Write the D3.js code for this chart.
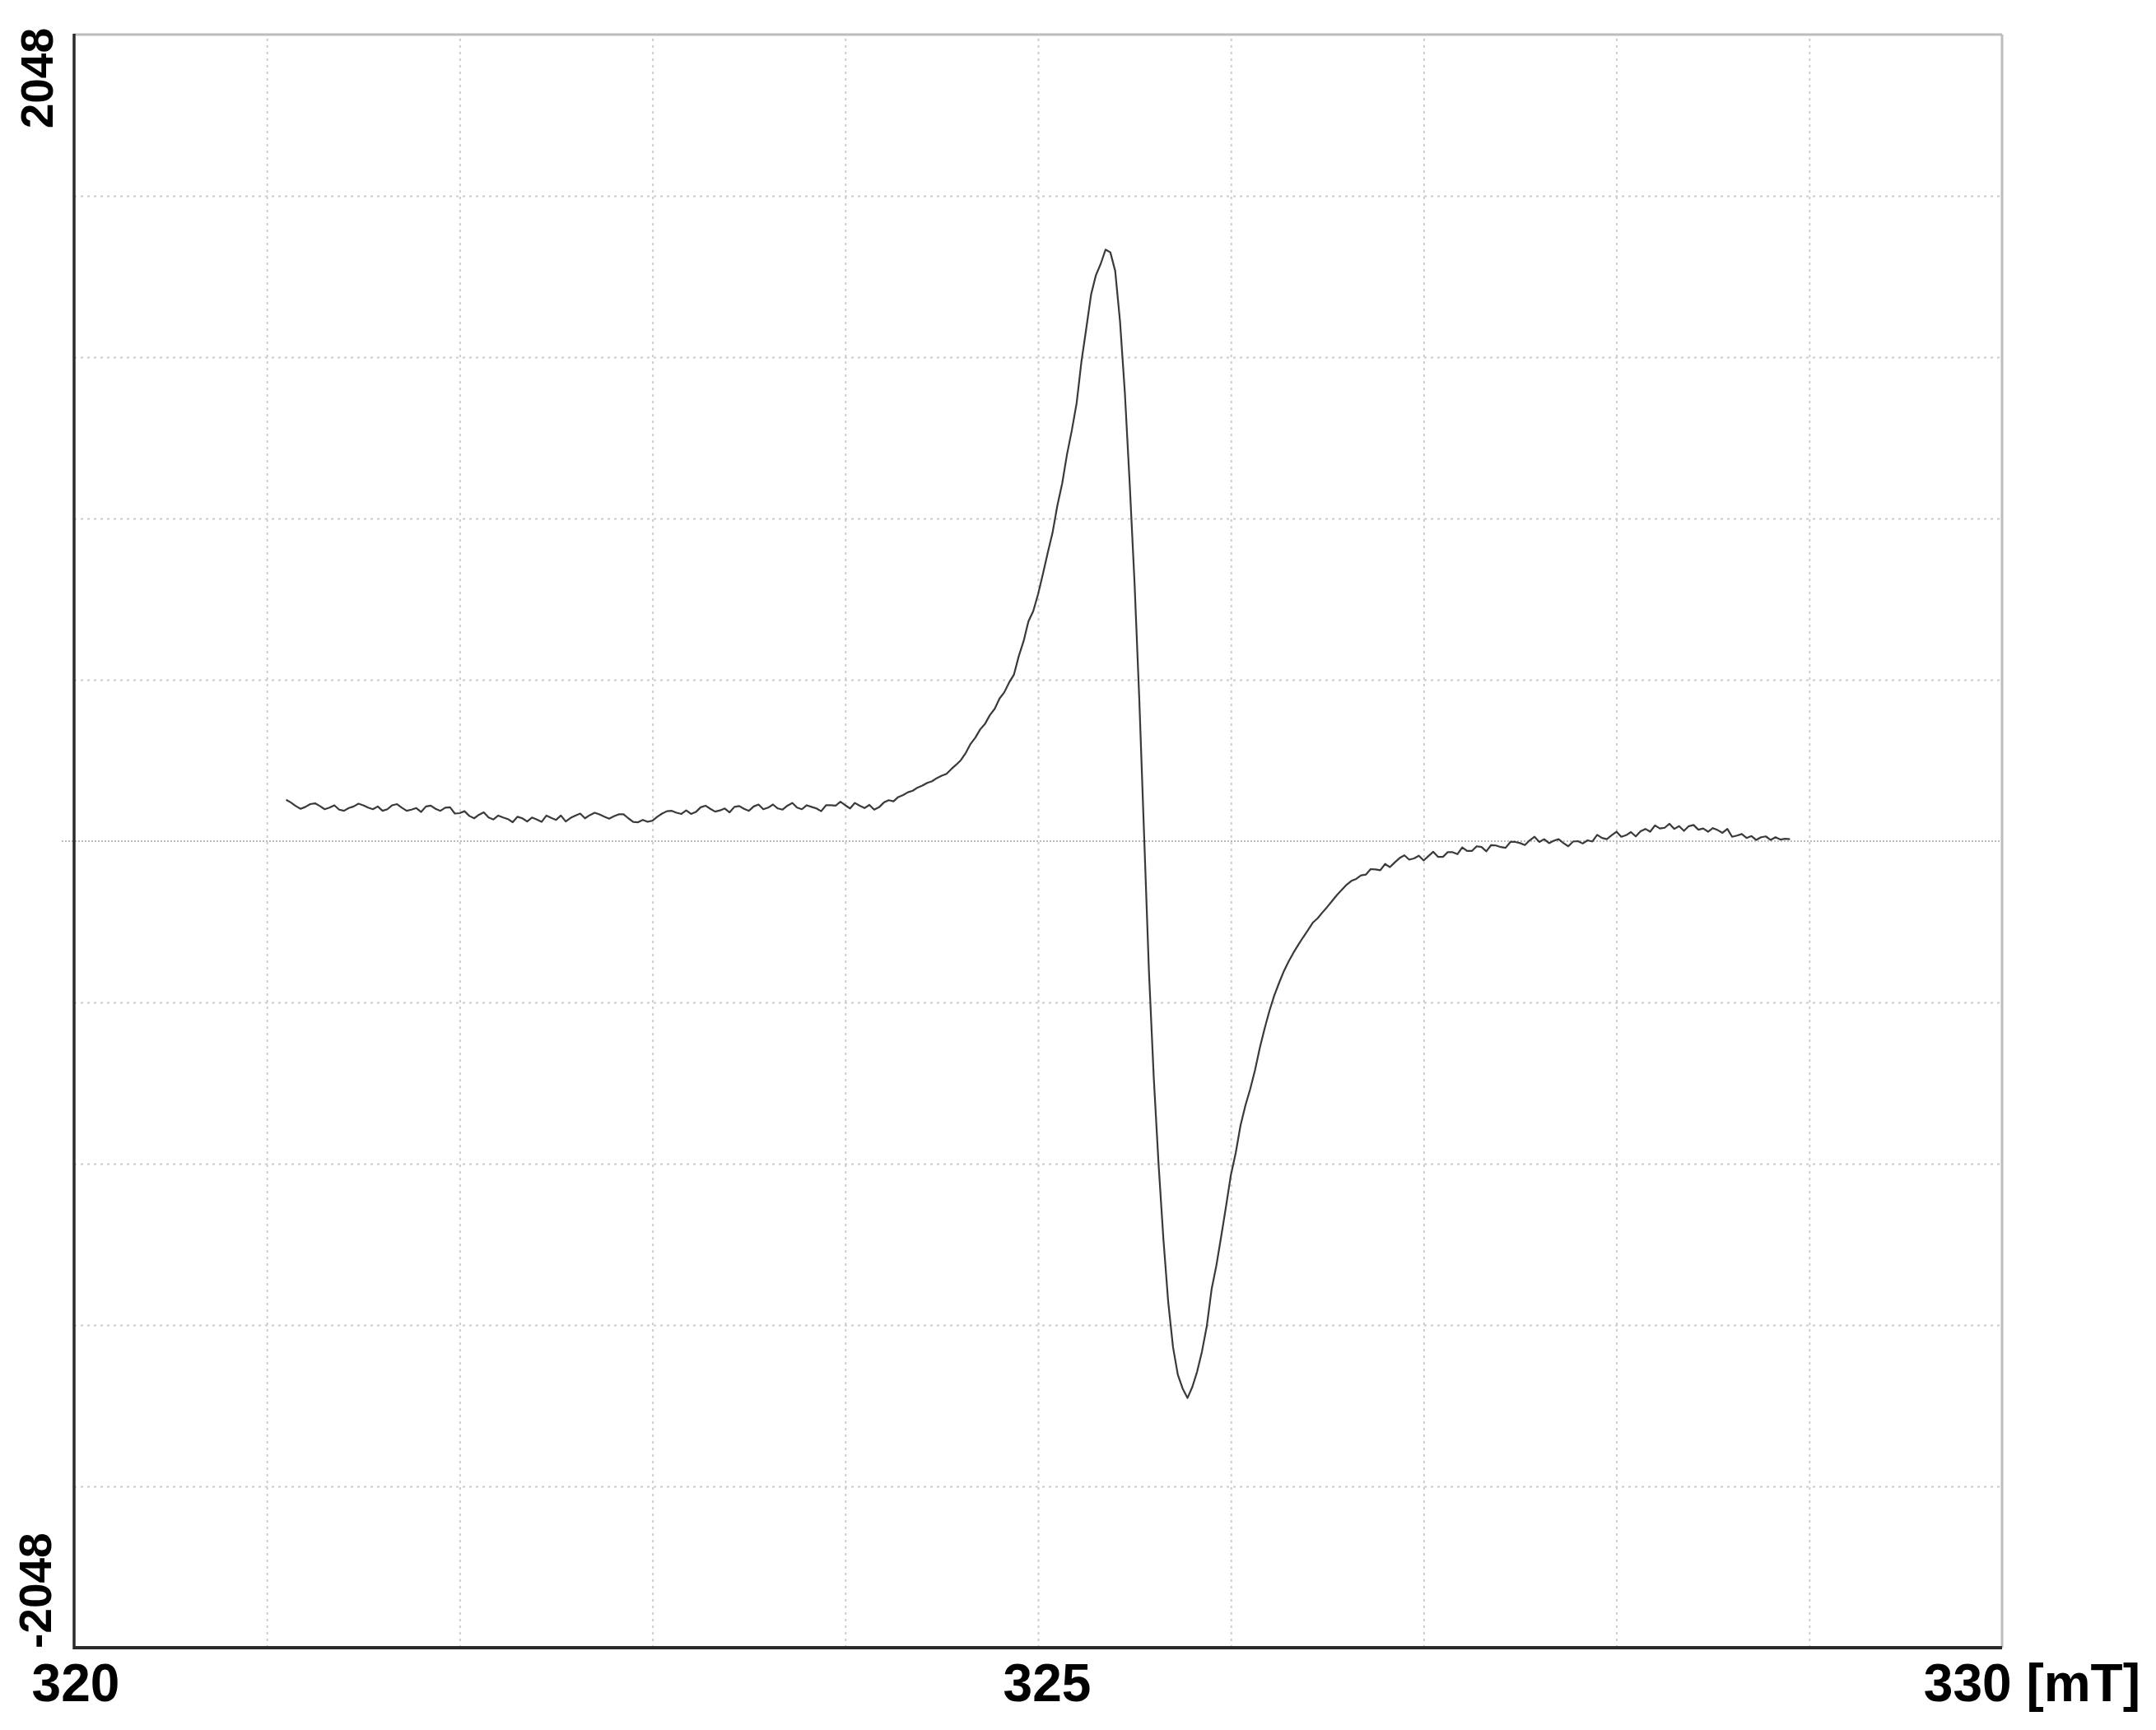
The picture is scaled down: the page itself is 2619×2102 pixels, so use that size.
<!DOCTYPE html>
<html>
<head>
<meta charset="utf-8">
<script src="https://cdn.jsdelivr.net/npm/d3@7/dist/d3.min.js"></script>
<style>
  html, body { margin: 0; padding: 0; background: #ffffff; }
  svg { display: block; }
  text { font-family: "Liberation Sans", Arial, sans-serif; fill: #000; font-weight: bold; }
</style>
</head>
<body>
<svg id="chart" width="2619" height="2102"></svg>
<script>
// ---- data ----
const xDomain = [320, 330];          // magnetic field, mT
const yDomain = [-2048, 2048];       // signal (a.u.)
const xTickLabels = ["320", "325", "330 [mT]"];
const xTickValues = [320, 325, 330];
const yTickLabels = ["2048", "-2048"];
const xGridTicks = [321, 322, 323, 324, 325, 326, 327, 328, 329];
const yGridTicks = [-1638.4, -1228.8, -819.2, -409.6, 409.6, 819.2, 1228.8, 1638.4];

// field sweep: start and step of the recorded spectrum
const fieldStart = 321.1;
const fieldStep = 0.025;
// EPR first-derivative signal, one value per field step (321.100 ... 328.900 mT)
const signal = [
  105, 98, 89, 82, 87, 94, 96, 89,            // 321.1
  81, 85, 91, 80, 77, 84, 88, 95,             // 321.3
  91, 85, 81, 88, 77, 81, 91, 94,             // 321.5
  85, 77, 80, 84, 74, 88, 90, 82,             // 321.7
  77, 85, 86, 70, 71, 76, 64, 58,             // 321.9
  67, 73, 60, 55, 65, 60, 56, 48,             // 322.1
  62, 58, 50, 60, 55, 49, 65, 59,             // 322.3
  54, 65, 50, 59, 65, 70, 58, 66,             // 322.5
  72, 68, 62, 57, 63, 68, 68, 58,             // 322.7
  49, 48, 54, 49, 52, 62, 70, 76,             // 322.9
  77, 72, 69, 78, 69, 74, 86, 90,             // 323.1
  82, 75, 78, 83, 73, 87, 89, 82,             // 323.3
  77, 88, 93, 81, 85, 93, 83, 80,             // 323.5
  90, 97, 85, 81, 91, 87, 83, 76,             // 323.7
  91, 91, 90, 100, 91, 83, 97, 90,            // 323.9
  84, 92, 80, 86, 98, 104, 101, 112,          // 324.1
  117, 124, 128, 136, 141, 148, 152, 160,     // 324.3
  166, 171, 183, 194, 206, 224, 247, 263,     // 324.5
  284, 298, 320, 336, 362, 378, 403, 423,     // 324.7
  470, 508, 558, 584, 627, 678, 732, 783,     // 324.9
  852, 908, 982, 1043, 1112, 1218, 1302, 1388,      // 325.1
  1437, 1466, 1502, 1495, 1448, 1320, 1140, 910,    // 325.3
  660, 360, 15, -330, -600, -820, -1010, -1170,     // 325.5
  -1285, -1355, -1390, -1414, -1386, -1347, -1296, -1232, // 325.7
  -1138, -1077, -1003, -927, -848, -792, -722, -672,  // 325.9
  -630, -582, -525, -476, -431, -392, -360, -330,   // 326.1
  -305, -283, -263, -244, -226, -207, -196, -181,   // 326.3
  -167, -152, -137, -124, -111, -101, -96, -87,     // 326.5
  -85, -71, -72, -74, -58, -66, -54, -43,           // 326.7
  -36, -47, -44, -37, -49, -38, -27, -40,           // 326.9
  -40, -28, -28, -33, -16, -25, -25, -13,           // 327.1
  -15, -26, -10, -11, -15, -17, -2, -2,             // 327.3
  -5, -10, 2, 11, -2, 5, -5, 1,                     // 327.5
  5, -5, -13, -1, 0, -6, 2, -1,                     // 327.7
  16, 8, 5, 15, 24, 11, 15, 23,                     // 327.9
  12, 25, 31, 24, 40, 32, 34, 44,                   // 328.1
  31, 38, 26, 38, 41, 29, 32, 24,                   // 328.3
  33, 28, 21, 31, 11, 14, 18, 8,                    // 328.5
  13, 3, 10, 12, 3, 10, 4, 6,                       // 328.7
  5                                                 // 328.9
];

// ---- layout ----
const W = 2619, H = 2102;
const plot = { left: 90, right: 2432, top: 42, bottom: 2002 };

const svg = d3.select("#chart");
const x = d3.scaleLinear().domain(xDomain).range([plot.left, plot.right]);
const y = d3.scaleLinear().domain(yDomain).range([plot.bottom, plot.top]);

svg.append("rect").attr("width", W).attr("height", H).attr("fill", "#fff");

// grid (dotted)
const gx = svg.append("g")
  .attr("transform", `translate(0,${plot.bottom})`)
  .call(d3.axisBottom(x).tickValues(xGridTicks).tickSize(-(plot.bottom - plot.top)).tickFormat(""));
gx.select(".domain").remove();
gx.selectAll(".tick line")
  .attr("stroke", "#cccccc").attr("stroke-width", 2).attr("stroke-dasharray", "3,5");

const gy = svg.append("g")
  .attr("transform", `translate(${plot.left},0)`)
  .call(d3.axisLeft(y).tickValues(yGridTicks).tickSize(-(plot.right - plot.left)).tickFormat(""));
gy.select(".domain").remove();
gy.selectAll(".tick line")
  .attr("stroke", "#cccccc").attr("stroke-width", 2).attr("stroke-dasharray", "3,5");

// zero line
svg.append("line")
  .attr("x1", plot.left - 15).attr("x2", plot.right)
  .attr("y1", y(0)).attr("y2", y(0))
  .attr("stroke", "#bdbdbd").attr("stroke-width", 2).attr("stroke-dasharray", "2,2");

// frame: top & right light, left & bottom dark
svg.append("line").attr("x1", plot.left).attr("x2", plot.right)
  .attr("y1", plot.top).attr("y2", plot.top)
  .attr("stroke", "#bcbcbc").attr("stroke-width", 3);
svg.append("line").attr("x1", plot.right).attr("x2", plot.right)
  .attr("y1", plot.top).attr("y2", plot.bottom)
  .attr("stroke", "#bcbcbc").attr("stroke-width", 3);
svg.append("line").attr("x1", plot.left).attr("x2", plot.left)
  .attr("y1", plot.top - 1).attr("y2", plot.bottom + 2)
  .attr("stroke", "#2b2b2b").attr("stroke-width", 3.5);
svg.append("line").attr("x1", plot.left - 1).attr("x2", plot.right)
  .attr("y1", plot.bottom).attr("y2", plot.bottom)
  .attr("stroke", "#2b2b2b").attr("stroke-width", 4);

// spectrum
const pts = signal.map((v, i) => [fieldStart + i * fieldStep, v]);
const line = d3.line().x(d => x(d[0])).y(d => y(d[1]));
svg.append("path")
  .datum(pts)
  .attr("d", line)
  .attr("fill", "none")
  .attr("stroke", "#3a3a3a")
  .attr("stroke-width", 2.2)
  .attr("stroke-linejoin", "round");

// x labels
const xLabelOffsets = [2, 11, 168];
const xLabelAnchors = ["middle", "middle", "end"];
svg.append("g").selectAll("text")
  .data(xTickValues)
  .join("text")
  .attr("x", (d, i) => x(d) + xLabelOffsets[i])
  .attr("y", plot.bottom + 65)
  .attr("text-anchor", (d, i) => xLabelAnchors[i])
  .attr("font-size", 64)
  .text((d, i) => xTickLabels[i]);

// y labels (rotated)
svg.append("text")
  .attr("transform", `translate(64,${y(2048) - 8}) rotate(-90)`)
  .attr("text-anchor", "end")
  .attr("font-size", 55)
  .text(yTickLabels[0]);
svg.append("text")
  .attr("transform", `translate(62,${y(-2048) + 1}) rotate(-90)`)
  .attr("text-anchor", "start")
  .attr("font-size", 55)
  .text(yTickLabels[1]);
</script>
</body>
</html>
